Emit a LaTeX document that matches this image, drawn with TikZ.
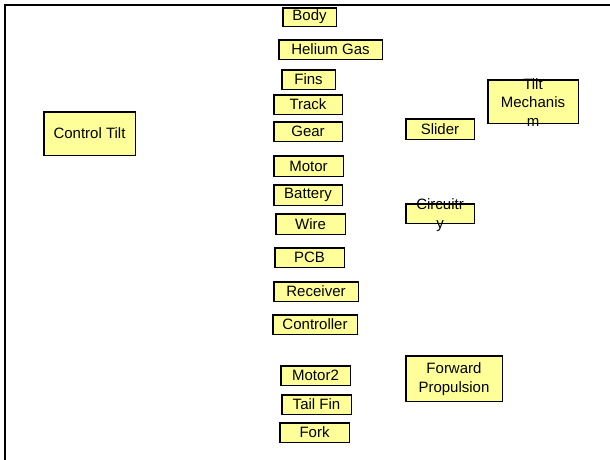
\documentclass[tikz,border=0pt]{standalone}
\usepackage{fontspec}
\setmainfont{Liberation Sans}
\begin{document}
\begin{tikzpicture}[x=1pt,y=-1pt,
  box/.style={draw=black, line width=1.5pt, fill={rgb,255:red,255;green,255;blue,153},
    inner sep=0pt, font=\fontsize{15}{18}\selectfont},
  lbl/.style={inner sep=0pt, align=center, font=\fontsize{15}{18.5}\selectfont}]
  % page extent
  \useasboundingbox (0,0) rectangle (610,459);
  % frame along the top and left edges
  \coordinate (frameTL) at (5,5);
  \coordinate (frameTR) at (610,5);
  \coordinate (frameBL) at (5,459);
  \draw[line width=2pt, line cap=rect] (frameTR) -- (frameTL) -- (frameBL);

  % goal
  \node[box, minimum width=91.5, minimum height=43.5] (ctrl) at (89.5,133.5) {Control Tilt};

  % parts column
  \node[box, minimum width=53.5, minimum height=18.5] (body) at (309.5,17) {Body};
  \node[box, minimum width=103.5, minimum height=19.5] (helium) at (330.5,49.5) {Helium Gas};
  \node[box, minimum width=53.5, minimum height=19.5] (fins) at (308.5,79.5) {Fins};
  \node[box, minimum width=68.5, minimum height=19.5] (track) at (308,104.5) {Track};
  \node[box, minimum width=68.5, minimum height=19.5] (gear) at (308,131.5) {Gear};
  \node[box, minimum width=69.5, minimum height=20.5] (motor) at (308.5,166) {Motor};
  \node[box, minimum width=68.5, minimum height=20.5] (battery) at (308,195) {Battery};
  \node[box, minimum width=69.5, minimum height=20.5] (wire) at (310.5,224) {Wire};
  \node[box, minimum width=69.5, minimum height=19.5] (pcb) at (309.5,257.5) {PCB};
  \node[box, minimum width=84.5, minimum height=19.5] (receiver) at (316,291.5) {Receiver};
  \node[box, minimum width=84.5, minimum height=19.5] (controller) at (315,324.5) {Controller};
  \node[box, minimum width=69.5, minimum height=19.5] (motor2) at (315.5,375.5) {Motor2};
  \node[box, minimum width=69.5, minimum height=19.5] (tailfin) at (316.5,404.5) {Tail Fin};
  \node[box, minimum width=69.5, minimum height=19.5] (fork) at (314.5,432.5) {Fork};

  % functions
  \node[box, minimum width=68.5, minimum height=20.5] (slider) at (440,129) {Slider};
  \node[box, minimum width=90.5, minimum height=43.5] (tilt) at (533,101.5) {};
  \node[lbl] (tiltText) at (533,102.5) {Tilt\\Mechanis\\m};
  \node[box, minimum width=68.5, minimum height=19.5] (circuit) at (440,213.5) {};
  \node[lbl] (circuitText) at (440,215) {Circuitr\\y};
  \node[box, minimum width=96.5, minimum height=45.5] (forward) at (454,378.5) {};
  \node[lbl] (forwardText) at (454,379) {Forward\\Propulsion};
\end{tikzpicture}
\end{document}
